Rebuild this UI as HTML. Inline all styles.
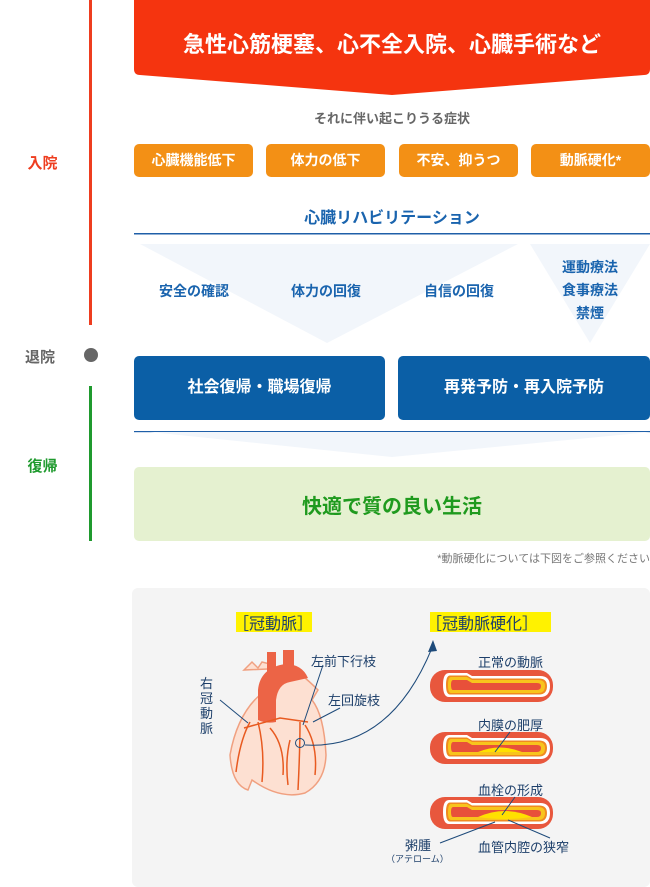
<!DOCTYPE html>
<html><head><meta charset="utf-8"><style>
body{margin:0;width:650px;height:887px;background:#fff;font-family:"Liberation Sans","Noto Sans CJK JP",sans-serif;position:relative;overflow:hidden}
.a{position:absolute}
.c{position:absolute;text-align:center;font-weight:bold}
.ob{position:absolute;top:144px;width:119px;height:33px;background:#f39015;border-radius:5px;color:#fff;font-size:14px;font-weight:bold;line-height:33px;text-align:center}
.bb{position:absolute;top:356px;height:64px;background:#0b5fa6;border-radius:5px;color:#fff;font-size:16px;font-weight:bold;line-height:64px;text-align:center}
.bt{color:#1a64ae;font-size:14px;font-weight:bold}
</style></head><body>
<svg class="a" style="left:0;top:0" width="650" height="887">
<rect x="89" y="0" width="3" height="325" fill="#ee3d1f"/>
<circle cx="91" cy="355" r="7" fill="#666"/>
<rect x="89" y="386" width="3" height="155" fill="#1f9a2e"/>
<path d="M134 0 H650 V69 Q650 75 644 75 L392 95 L140 75 Q134 75 134 69 Z" fill="#f5340f"/>
<rect x="134" y="233" width="516" height="1.5" fill="#1f5fa8"/>
<polygon points="140,244 518,244 327,343" fill="#f2f6fb"/>
<polygon points="530,244 650,244 590,343" fill="#f2f6fb"/>
<rect x="134" y="431" width="516" height="1.2" fill="#1f5fa8"/>
<polygon points="150,432 650,432 392,457" fill="#f2f6fb"/>
<rect x="134" y="467" width="516" height="74" rx="5" fill="#e5f1d0"/>
<rect x="132" y="588" width="518" height="299" rx="6" fill="#f4f4f4"/>
<rect x="236" y="612" width="76" height="20" fill="#fff200"/>
<rect x="430" y="612" width="121" height="20" fill="#fff200"/>
<!-- heart -->
<path d="M244 670 L252 662 L258 668 L262 662 L270 664 L266 690 Q238 710 230 755 Q232 785 248 790 L252 780 Q280 800 305 793 Q325 782 326 755 Q324 715 312 700 L318 690 Q300 672 290 668 Z" fill="#fde0d2" stroke="#f0a080" stroke-width="1.5"/>
<path d="M258 720 L258 690 Q260 668 285 664 Q302 664 308 678 L290 682 Q278 684 276 700 L276 722 Q266 724 258 720 Z" fill="#ec6446"/>
<rect x="267" y="652" width="9" height="22" fill="#ec6446"/><rect x="283" y="650" width="11" height="22" fill="#ec6446"/>
<g fill="none" stroke="#e85a20" stroke-width="1.5">
<path d="M250 722 Q240 740 236 772"/><path d="M258 722 Q265 750 262 782"/><path d="M270 728 Q285 745 283 775"/>
<path d="M300 722 Q300 750 298 790"/><path d="M305 725 Q318 745 315 775"/><path d="M290 740 Q285 760 288 785"/>
<path d="M244 728 L280 718 L308 722"/>
</g>
<g stroke="#1d4a7a" stroke-width="1" fill="none">
<line x1="220" y1="700" x2="248" y2="723"/><line x1="323" y1="665" x2="303" y2="725"/><line x1="340" y1="708" x2="313" y2="722"/>
<circle cx="300" cy="743" r="4.5"/>
<path d="M305 745 Q390 750 432 648"/>
</g>
<polygon points="433,640 428,652 437,651" fill="#1d4a7a"/>
<!-- tubes -->
<g id="t">
<rect x="430" y="670" width="123" height="32" rx="15" fill="#e8573d"/>
<path d="M449 673 H467 L472 676 H540 Q550 676 550 686 Q550 697 540 697 H449 Q443 697 443 685 Q443 673 449 673Z" fill="#fff"/>
<path d="M450 675.5 H467 L472 678.5 H539 Q547 678.5 547 686 Q547 694.5 539 694.5 H450 Q446 694.5 446 685 Q446 675.5 450 675.5Z" fill="#f08a20"/>
<path d="M451 677 H467 L472 680 H538 Q545 680 545 686 Q545 693 538 693 H451 Q448 693 448 685 Q448 677 451 677Z" fill="#f8c41c"/>
<path d="M453 680 H467 L472 683 H537 Q541 683 541 686 Q541 690 537 690 H453 Q451 690 451 685 Q451 680 453 680Z" fill="#e8503a"/>
</g>
<use href="#t" y="62"/><use href="#t" y="127"/>
<path d="M478 752 Q500 743 522 752 Z" fill="#ffe000"/>
<path d="M478 817 Q505 805 532 817 Q505 821 478 817Z" fill="#ffe000"/>
<g stroke="#1d4a7a" stroke-width="1"><line x1="495" y1="752" x2="510" y2="732"/><line x1="502" y1="815" x2="515" y2="797"/><line x1="440" y1="843" x2="495" y2="822"/><line x1="508" y1="820" x2="550" y2="838"/></g>
</svg>
<div class="c" style="left:134px;width:516px;top:27px;color:#fff;font-size:22px">急性心筋梗塞、心不全入院、心臓手術など</div>
<div class="c" style="left:0;width:85px;top:152px;color:#ee3d1f;font-size:15px">入院</div>
<div class="a" style="left:25px;top:346px;color:#666;font-size:15px;font-weight:bold">退院</div>
<div class="c" style="left:0;width:85px;top:455px;color:#1f9a2e;font-size:15px">復帰</div>
<div class="c" style="left:134px;width:516px;top:108px;color:#666;font-size:13px">それに伴い起こりうる症状</div>
<div class="ob" style="left:134px">心臓機能低下</div><div class="ob" style="left:266px">体力の低下</div><div class="ob" style="left:399px">不安、抑うつ</div><div class="ob" style="left:531px">動脈硬化*</div>
<div class="c" style="left:134px;width:516px;top:204px;color:#1a64ae;font-size:16px">心臓リハビリテーション</div>
<div class="c bt" style="left:144px;width:100px;top:281px">安全の確認</div>
<div class="c bt" style="left:276px;width:100px;top:281px">体力の回復</div>
<div class="c bt" style="left:409px;width:100px;top:281px">自信の回復</div>
<div class="c bt" style="left:540px;width:100px;top:256px;line-height:23px">運動療法<br>食事療法<br>禁煙</div>
<div class="bb" style="left:134px;width:251px">社会復帰・職場復帰</div>
<div class="bb" style="left:398px;width:252px">再発予防・再入院予防</div>
<div class="c" style="left:134px;width:516px;top:490px;color:#1f9a1e;font-size:20px">快適で質の良い生活</div>
<div class="a" style="right:0;top:550px;color:#777;font-size:11px">*動脈硬化については下図をご参照ください</div>
<div class="a" style="left:233px;top:610px;color:#1d3f6a;font-size:16px">［冠動脈］</div>
<div class="a" style="left:426px;top:610px;color:#1d3f6a;font-size:16px">［冠動脈硬化］</div>
<div class="a" style="left:311px;top:651px;color:#1d3f6a;font-size:13px">左前下行枝</div>
<div class="a" style="left:328px;top:690px;color:#1d3f6a;font-size:13px">左回旋枝</div>
<div class="a" style="left:200px;top:676px;width:15px;color:#1d3f6a;font-size:13px;line-height:15px">右冠動脈</div>
<div class="a" style="left:478px;top:652px;color:#1d3f6a;font-size:13px">正常の動脈</div>
<div class="a" style="left:478px;top:715px;color:#1d3f6a;font-size:13px">内膜の肥厚</div>
<div class="a" style="left:478px;top:780px;color:#1d3f6a;font-size:13px">血栓の形成</div>
<div class="a" style="left:405px;top:835px;color:#1d3f6a;font-size:13px">粥腫</div>
<div class="a" style="left:386px;top:852px;color:#1d3f6a;font-size:9px">（アテローム）</div>
<div class="a" style="left:478px;top:837px;color:#1d3f6a;font-size:13px">血管内腔の狭窄</div>
</body></html>
